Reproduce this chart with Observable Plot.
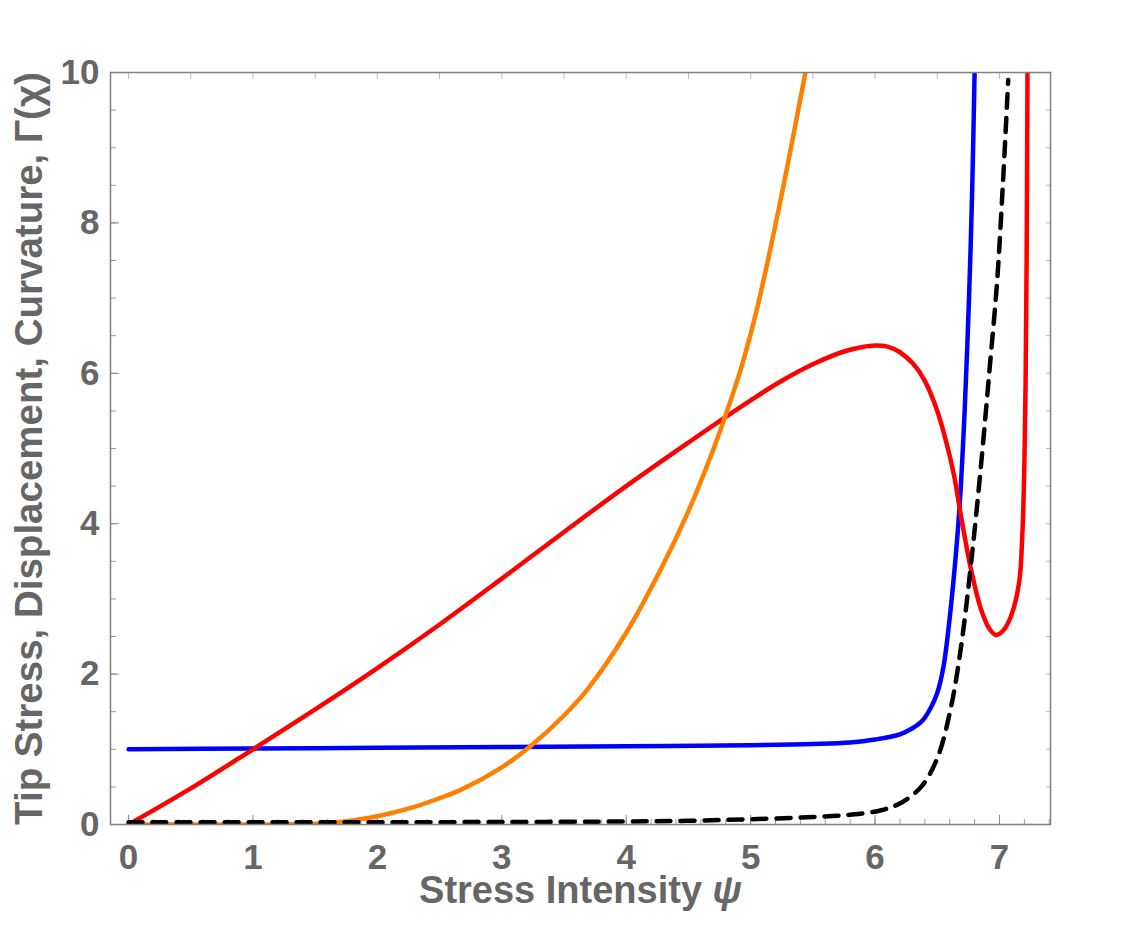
<!DOCTYPE html>
<html>
<head>
<meta charset="utf-8">
<script src="https://cdn.jsdelivr.net/npm/d3@7"></script>
<script src="https://cdn.jsdelivr.net/npm/@observablehq/plot@0.6"></script>
<style>
  html, body { margin: 0; padding: 0; background: #fff; }
  #chart { width: 1125px; height: 940px; }
</style>
</head>
<body>
<div id="chart"></div>
<script>
// ---- data ----
const blueX = [0, 1, 2, 3, 4, 5, 5.5, 5.8, 6.0, 6.2, 6.3, 6.38, 6.45, 6.5, 6.55, 6.6, 6.65, 6.68, 6.72, 6.755, 6.78, 6.8];
const blueY = [1.0, 1.01, 1.02, 1.03, 1.04, 1.055, 1.07, 1.09, 1.13, 1.2, 1.28, 1.38, 1.56, 1.75, 2.1, 2.75, 3.6, 4.25, 5.5, 7.0, 8.4, 10];

const redX = [0, 0.5, 1, 1.5, 2, 2.5, 3, 3.5, 4, 4.5, 4.8, 5, 5.25, 5.5, 5.75, 5.9, 6.0, 6.1, 6.2, 6.31, 6.4, 6.5, 6.57, 6.635, 6.69, 6.77, 6.85, 6.92, 6.97, 7.03, 7.09, 7.157, 7.184, 7.2, 7.21, 7.218, 7.225];
const redY = [0, 0.48, 1.0, 1.53, 2.08, 2.66, 3.27, 3.89, 4.5, 5.08, 5.42, 5.64, 5.9, 6.12, 6.29, 6.35, 6.37, 6.355, 6.28, 6.12, 5.9, 5.5, 5.1, 4.64, 4.11, 3.4, 2.87, 2.6, 2.52, 2.58, 2.76, 3.21, 3.87, 4.8, 5.9, 7.5, 10];

const orangeX = [0, 1, 1.4, 1.6, 1.75, 2, 2.27, 2.5, 2.67, 3, 3.23, 3.5, 3.69, 4, 4.28, 4.49, 4.68, 4.8, 4.92, 5.05, 5.24, 5.44];
const orangeY = [0, 0, 0.005, 0.02, 0.045, 0.11, 0.22, 0.35, 0.46, 0.76, 1.04, 1.45, 1.8, 2.55, 3.4, 4.13, 4.9, 5.45, 6.05, 6.85, 8.3, 10];

const blackX = [0, 1, 2, 3, 4, 4.5, 5, 5.5, 5.8, 6.05, 6.21, 6.37, 6.5, 6.61, 6.69, 6.77, 6.85, 6.92, 6.98, 7.03, 7.07];
const blackY = [0.03, 0.03, 0.03, 0.033, 0.04, 0.05, 0.07, 0.1, 0.13, 0.19, 0.29, 0.5, 0.88, 1.56, 2.35, 3.45, 4.75, 6.05, 7.2, 8.6, 9.9];

// tick values / labels
const xTickLabels = [0, 1, 2, 3, 4, 5, 6, 7];
const xMinorTicks = d3.range(0, 7.41, 0.2);
const xTopTicks = d3.range(0, 7.41, 0.5);
const yTickLabels = [0, 2, 4, 6, 8, 10];
const yMinorTicks = d3.range(0, 10.01, 0.5);

const xTitle = "Stress Intensity ψ";
const yTitle = "Tip Stress, Displacement, Curvature, Γ(χ)";

const toRows = (xs, ys) => xs.map((x, i) => ({x, y: ys[i]}));

const FONT = "'Liberation Sans', Arial, Helvetica, sans-serif";
const GRAY = "#666666";

const chart = Plot.plot({
  width: 1125,
  height: 940,
  marginLeft: 110,
  marginRight: 75,
  marginTop: 72,
  marginBottom: 116,
  x: {domain: [-0.145, 7.41]},
  y: {domain: [0, 10]},
  style: {fontFamily: FONT, background: "white", overflow: "visible"},
  marks: [
    // ticks (inward)
    Plot.axisX({ticks: xMinorTicks, anchor: "bottom", tickSize: -5, stroke: "#999", fill: "none", label: null}),
    Plot.axisX({ticks: xTickLabels, anchor: "bottom", tickSize: -9, stroke: "#888", fill: "none", label: null}),
    Plot.axisX({ticks: xTopTicks, anchor: "top", tickSize: -6, stroke: "#bbb", fill: "none", label: null}),
    Plot.axisY({ticks: yMinorTicks, anchor: "left", tickSize: -6, stroke: "#999", fill: "none", label: null}),
    Plot.axisY({ticks: yTickLabels, anchor: "left", tickSize: -9, stroke: "#888", fill: "none", label: null}),
    Plot.axisY({ticks: yMinorTicks, anchor: "right", tickSize: -5, stroke: "#bbb", fill: "none", label: null}),
    // tick labels
    Plot.axisX({ticks: xTickLabels, anchor: "bottom", tickSize: 0, tickPadding: 20, fontSize: 35, fontWeight: "bold", fill: GRAY, label: null}),
    Plot.axisY({ticks: yTickLabels, anchor: "left", tickSize: 0, tickPadding: 11, fontSize: 35, fontWeight: "bold", fill: GRAY, label: null}),
    // curves
    Plot.line(toRows(blueX, blueY), {x: "x", y: "y", stroke: "#0000ff", strokeWidth: 4.5, curve: "catmull-rom", clip: true}),
    Plot.line(toRows(redX, redY), {x: "x", y: "y", stroke: "#ff0000", strokeWidth: 4.5, curve: "catmull-rom", clip: true}),
    Plot.line(toRows(orangeX, orangeY), {x: "x", y: "y", stroke: "#ff8000", strokeWidth: 4.5, curve: "catmull-rom", clip: true}),
    Plot.line(toRows(blackX, blackY), {x: "x", y: "y", stroke: "#000000", strokeWidth: 4.5, strokeDasharray: "14,10", curve: "catmull-rom", clip: true}),
    // frame
    Plot.frame({stroke: "#808080", strokeWidth: 1.5}),
    // axis titles
    Plot.text([xTitle], {frameAnchor: "bottom", dy: 66, lineAnchor: "middle", textAnchor: "middle", fontSize: 38, fontWeight: "bold", fill: GRAY}),
    Plot.text([yTitle], {frameAnchor: "left", dx: -81, rotate: -90, lineAnchor: "middle", textAnchor: "middle", fontSize: 38.5, fontWeight: "bold", fill: GRAY})
  ]
});

// italic psi in the x title
d3.select(chart).selectAll("text").each(function() {
  if (this.textContent === xTitle) {
    this.textContent = "";
    d3.select(this).append("tspan").text("Stress Intensity ");
    d3.select(this).append("tspan").attr("font-style", "italic").text("ψ");
  }
});

document.getElementById("chart").appendChild(chart);
</script>
</body>
</html>
